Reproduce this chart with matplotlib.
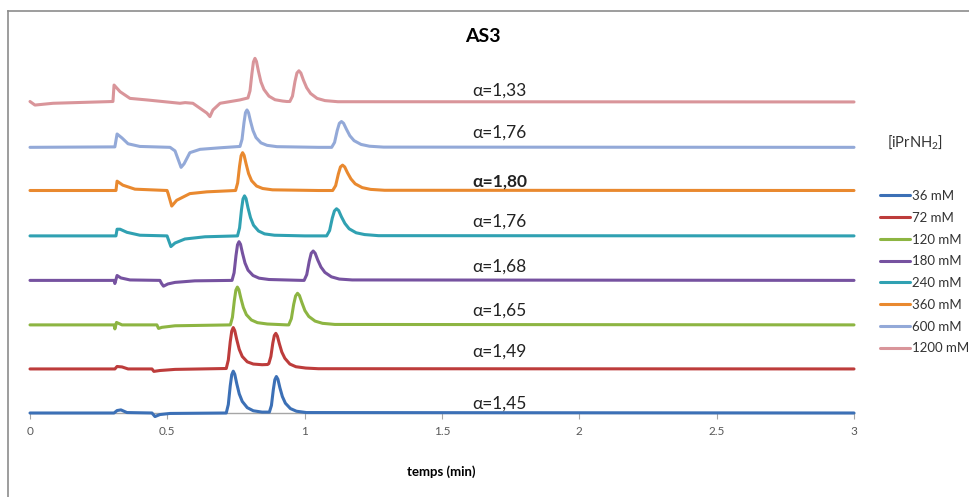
import matplotlib
matplotlib.use("Agg")
import matplotlib.pyplot as plt
from matplotlib.lines import Line2D

plt.rcParams['font.family'] = ['Lato', 'DejaVu Sans']
plt.rcParams['mathtext.fontset'] = 'custom'
plt.rcParams['mathtext.rm'] = 'Lato'
plt.rcParams['mathtext.it'] = 'Lato:italic'

# ---------------- data (time in min, signal in relative units) ----------------
labels = ["36 mM", "72 mM", "120 mM", "180 mM", "240 mM", "360 mM", "600 mM", "1200 mM"]
colors = ["#3c70b6", "#bd3c3b", "#8db542", "#7652a0", "#30a1b2", "#e9892f", "#93a9d8", "#d9959a"]
offsets = [0, 0.99, 1.98, 2.98, 3.98, 5.0, 5.97, 6.99]
alpha_labels = ["α=1,45", "α=1,49", "α=1,65", "α=1,68", "α=1,76", "α=1,80", "α=1,76", "α=1,33"]
alpha_y = [0.22, 1.38, 2.29, 3.29, 4.30, 5.20, 6.30, 7.24]
alpha_bold = [False, False, False, False, False, True, False, False]

t_36 = [0, 0.306, 0.317, 0.331, 0.353, 0.444, 0.455, 0.473, 0.51,
        0.7145, 0.722, 0.729, 0.7345, 0.740, 0.7455, 0.7527, 0.7618, 0.7728, 0.791, 0.813, 0.845, 0.863,
        0.8715, 0.879, 0.886, 0.8915, 0.897, 0.9025, 0.9097, 0.9188, 0.9298, 0.948, 0.970, 1.006, 3.0]
s_36 = [0, 0, 0.055, 0.07, 0.01, 0, -0.08, -0.035, -0.01,
        0, 0.19, 0.61, 0.86, 0.94, 0.87, 0.66, 0.43, 0.26, 0.12, 0.05, 0.02, 0.02,
        0.02, 0.17, 0.53, 0.75, 0.82, 0.76, 0.57, 0.37, 0.22, 0.10, 0.04, 0.01, 0]

t_72 = [0, 0.309, 0.317, 0.335, 0.357, 0.444, 0.451, 0.473, 0.528,
        0.7145, 0.722, 0.729, 0.7345, 0.740, 0.7455, 0.7527, 0.7618, 0.7728, 0.791, 0.813, 0.845, 0.865,
        0.8695, 0.877, 0.884, 0.8895, 0.895, 0.9005, 0.9077, 0.9168, 0.9278, 0.946, 0.968, 1.004, 1.05, 3.0]
s_72 = [0, 0, 0.055, 0.045, 0, 0, -0.055, -0.035, -0.01,
        0.01, 0.20, 0.61, 0.85, 0.93, 0.86, 0.66, 0.44, 0.28, 0.16, 0.11, 0.095, 0.10,
        0.12, 0.28, 0.58, 0.75, 0.80, 0.74, 0.57, 0.38, 0.24, 0.11, 0.05, 0.02, 0.005, 0]

t_120 = [0, 0.306, 0.309, 0.315, 0.335, 0.462, 0.468, 0.48, 0.528,
         0.7295, 0.737, 0.744, 0.7495, 0.755, 0.7605, 0.7677, 0.7768, 0.7878, 0.806, 0.828, 0.864, 0.935,
         0.942, 0.9515, 0.960, 0.967, 0.974, 0.981, 0.990, 1.001, 1.015, 1.038, 1.065, 1.11, 3.0]
s_120 = [0, 0, -0.09, 0.055, 0, 0, -0.08, -0.055, -0.02,
         0, 0.17, 0.55, 0.78, 0.85, 0.79, 0.60, 0.39, 0.23, 0.11, 0.05, 0.02, 0,
         0, 0.14, 0.46, 0.65, 0.71, 0.66, 0.50, 0.32, 0.19, 0.085, 0.035, 0.01, 0]

t_180 = [0, 0.306, 0.309, 0.317, 0.331, 0.364, 0.473, 0.479, 0.486, 0.502, 0.528, 0.60,
         0.7355, 0.743, 0.750, 0.7555, 0.761, 0.7665, 0.7737, 0.7828, 0.7938, 0.812, 0.834, 0.87, 0.99,
         0.998, 1.0076, 1.0167, 1.0238, 1.031, 1.0382, 1.0475, 1.0593, 1.0736, 1.0973, 1.126, 1.173, 3.0]
s_180 = [0, 0, -0.07, 0.11, 0.055, 0.01, 0, -0.07, -0.13, -0.08, -0.045, -0.01,
         0, 0.17, 0.56, 0.80, 0.87, 0.81, 0.61, 0.39, 0.23, 0.11, 0.05, 0.02, 0,
         0, 0.13, 0.43, 0.61, 0.66, 0.61, 0.46, 0.30, 0.18, 0.08, 0.03, 0.01, 0]

t_240 = [0, 0.313, 0.317, 0.328, 0.353, 0.40, 0.499, 0.503, 0.513, 0.528, 0.564, 0.637,
         0.7555, 0.763, 0.770, 0.7755, 0.781, 0.7865, 0.7937, 0.8028, 0.8138, 0.832, 0.854, 0.89, 1.0,
         1.080, 1.0908, 1.1006, 1.1083, 1.116, 1.1237, 1.1338, 1.1465, 1.1619, 1.1874, 1.218, 1.269, 3.0]
s_240 = [0, 0, 0.15, 0.15, 0.08, 0.015, 0, -0.07, -0.24, -0.16, -0.07, -0.02,
         0, 0.18, 0.59, 0.83, 0.90, 0.84, 0.63, 0.41, 0.24, 0.11, 0.045, 0.015, 0,
         0, 0.12, 0.40, 0.56, 0.61, 0.57, 0.43, 0.28, 0.16, 0.07, 0.03, 0.005, 0]

t_360 = [0, 0.313, 0.317, 0.338, 0.382, 0.499, 0.503, 0.516, 0.534, 0.582, 0.644,
         0.7485, 0.756, 0.763, 0.7685, 0.774, 0.7795, 0.7867, 0.7958, 0.8068, 0.825, 0.847, 0.883, 1.05,
         1.102, 1.1128, 1.1226, 1.1303, 1.138, 1.1457, 1.1558, 1.1685, 1.1839, 1.2094, 1.240, 1.291, 3.0]
s_360 = [0, 0, 0.21, 0.12, 0.03, 0, -0.07, -0.35, -0.22, -0.07, -0.03,
         0, 0.17, 0.55, 0.78, 0.85, 0.79, 0.60, 0.38, 0.22, 0.10, 0.045, 0.015, 0,
         0, 0.11, 0.37, 0.53, 0.57, 0.53, 0.40, 0.26, 0.15, 0.065, 0.025, 0.005, 0]

t_600 = [0, 0.309, 0.317, 0.335, 0.357, 0.40, 0.51, 0.528, 0.55, 0.561, 0.582, 0.619, 0.692,
         0.7645, 0.772, 0.779, 0.7845, 0.790, 0.7955, 0.8027, 0.8118, 0.8228, 0.841, 0.863, 0.899, 1.05,
         1.0983, 1.1088, 1.1186, 1.1263, 1.134, 1.1417, 1.1518, 1.1645, 1.1799, 1.2054, 1.236, 1.287, 3.0]
s_600 = [0, 0.01, 0.30, 0.21, 0.08, 0.02, 0, -0.08, -0.45, -0.37, -0.12, -0.045, -0.01,
         0.02, 0.18, 0.55, 0.78, 0.84, 0.78, 0.59, 0.38, 0.22, 0.10, 0.045, 0.015, 0,
         0, 0.11, 0.38, 0.54, 0.58, 0.54, 0.41, 0.26, 0.15, 0.065, 0.025, 0.005, 0]

t_1200 = [0, 0.018, 0.084, 0.302, 0.306, 0.328, 0.364, 0.426, 0.546, 0.565, 0.593, 0.644, 0.655, 0.666,
          0.692, 0.764,
          0.7935, 0.801, 0.808, 0.8135, 0.819, 0.8245, 0.8317, 0.8408, 0.8518, 0.87, 0.892, 0.92, 0.935,
          0.946, 0.9556, 0.9647, 0.9718, 0.979, 0.9862, 0.9955, 1.0073, 1.0216, 1.0453, 1.074, 1.121, 3.0]
s_1200 = [0.01, -0.07, -0.03, 0.01, 0.38, 0.23, 0.08, 0.045, -0.03, -0.015, -0.03, -0.25, -0.33, -0.18,
          -0.03, 0.045,
          0.09, 0.25, 0.64, 0.90, 0.98, 0.91, 0.69, 0.45, 0.28, 0.13, 0.05, 0.02, 0.01,
          0.01, 0.13, 0.46, 0.65, 0.70, 0.65, 0.49, 0.32, 0.19, 0.08, 0.03, 0.005, 0]

times = [t_36, t_72, t_120, t_180, t_240, t_360, t_600, t_1200]
signals = [s_36, s_72, s_120, s_180, s_240, s_360, s_600, s_1200]

xticks = [0, 0.5, 1, 1.5, 2, 2.5, 3]
xtick_labels = ["0", "0.5", "1", "1.5", "2", "2.5", "3"]

# ---------------- figure ----------------
W, H = 970, 497
fig = plt.figure(figsize=(W / 100, H / 100), dpi=100)
ax = fig.add_axes([30 / W, 84 / H, 824 / W, 365 / H])
ax.set_xlim(0, 3)
ax.set_ylim(0, 365 / 44.5)

handles = []
for t, s, off, c, lab in zip(times, signals, offsets, colors, labels):
    y = [v + off for v in s]
    ln, = ax.plot(t, y, color=c, lw=2.2, clip_on=False, solid_joinstyle='round',
                  solid_capstyle='round', zorder=3, label=lab)
    handles.append(ln)

for txt, yy, b in zip(alpha_labels, alpha_y, alpha_bold):
    ax.text(1.609, yy, txt, ha='left', va='center', fontsize=12.5, color='#222222',
            fontweight='bold' if b else 'normal', family=['Lato', 'DejaVu Sans'])

for sp in ['left', 'top', 'right']:
    ax.spines[sp].set_visible(False)
ax.spines['bottom'].set_color('#a6a6a6')
ax.spines['bottom'].set_linewidth(1.0)
ax.spines['bottom'].set_zorder(1)
ax.set_yticks([])
ax.set_xticks(xticks)
ax.set_xticklabels(xtick_labels)
ax.tick_params(axis='x', direction='out', length=4, color='#a6a6a6', labelsize=8.5,
               labelcolor='#595959', pad=5.5)

fig.text(483 / W, 1 - 37 / H, "AS3", ha='center', va='center', fontsize=14, fontweight='bold')
fig.text(441 / W, 1 - 472 / H, "temps (min)", ha='center', va='center', fontsize=9.5, fontweight='bold')
fig.text(887 / W, 1 - 141.7 / H, "[iPrNH$_2$]", ha='left', va='center', fontsize=10.5, color='#333333')

leg = fig.legend(handles=handles, labels=labels, loc='upper left',
                 bbox_to_anchor=(880 / W, 1 - 190 / H), frameon=False, fontsize=9.5,
                 handlelength=2.27, handletextpad=0.15, labelspacing=0.74, borderpad=0,
                 borderaxespad=0, labelcolor='#333333')
for lh in leg.get_lines():
    lh.set_linewidth(2.2)

fig.add_artist(Line2D([8.5 / W, 8.5 / W], [0, 1 - 11 / H], transform=fig.transFigure,
                      color='#8c8c8c', lw=1.2))
fig.add_artist(Line2D([8.5 / W, 1], [1 - 11 / H, 1 - 11 / H], transform=fig.transFigure,
                      color='#8c8c8c', lw=1.2))

fig.savefig("out.png", dpi=100)
